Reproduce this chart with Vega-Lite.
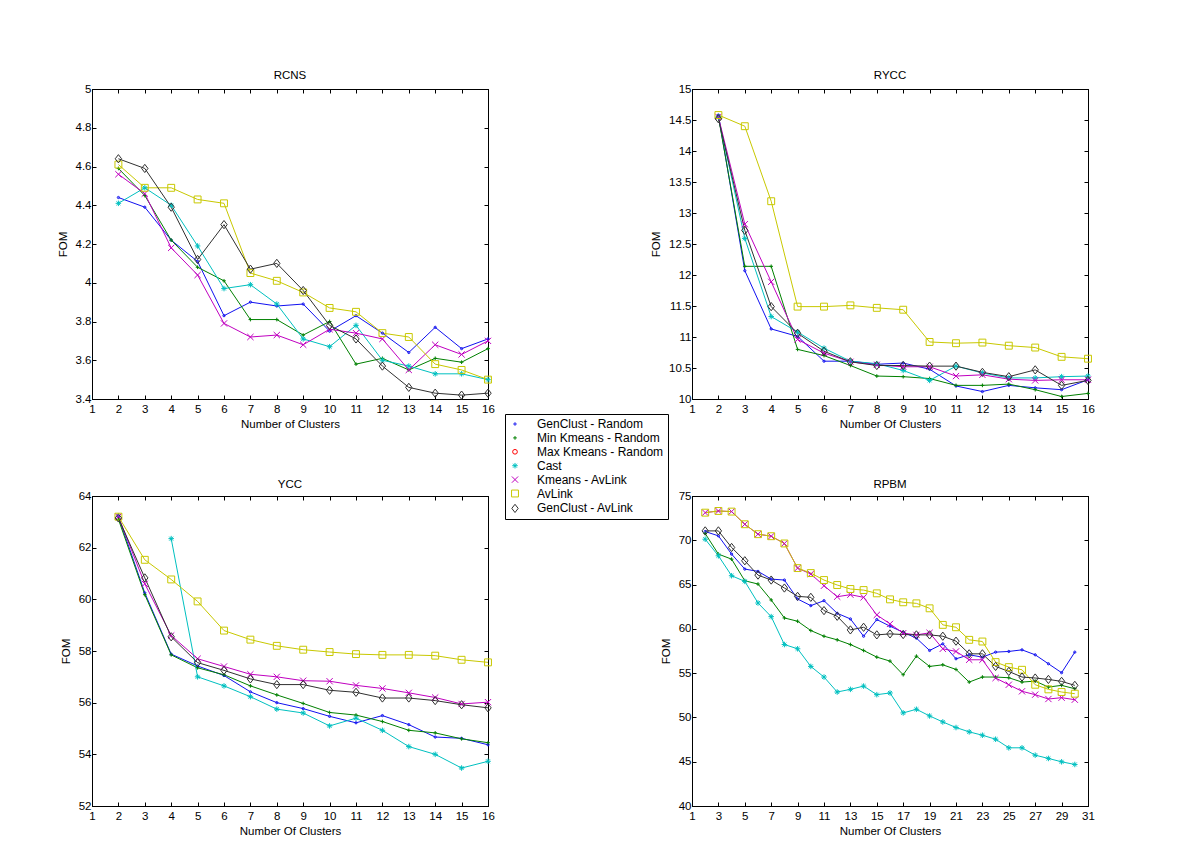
{
"$schema": "https://vega.github.io/schema/vega-lite/v6.json",
"background": "white",
"padding": {"left": 56, "top": 69, "right": 10, "bottom": 10},
"config": {
  "font": "Liberation Sans",
  "view": {"stroke": "black", "strokeWidth": 1},
  "axis": {"grid": false, "domainColor": "black", "domainWidth": 1, "tickColor": "black", "tickSize": -4, "tickWidth": 1, "labelColor": "black", "titleColor": "black", "labelFont": "Liberation Sans", "titleFont": "Liberation Sans", "labelFontSize": 11.5, "titleFontSize": 11.5, "titleFontWeight": "normal", "labelPadding": 8, "titlePadding": 4, "labelFlush": false, "labelOverlap": false, "labelBound": false},
  "axisY": {"titlePadding": 7, "labelPadding": 5},
  "title": {"font": "Liberation Sans", "fontSize": 11.5, "fontWeight": "normal", "color": "black", "offset": 2}
},
"datasets": {
"rcns": [
{"m":"GenClust - Random","k":2,"v":4.44},{"m":"GenClust - Random","k":3,"v":4.39},{"m":"GenClust - Random","k":4,"v":4.22},{"m":"GenClust - Random","k":5,"v":4.11},{"m":"GenClust - Random","k":6,"v":3.83},{"m":"GenClust - Random","k":7,"v":3.90},{"m":"GenClust - Random","k":8,"v":3.88},{"m":"GenClust - Random","k":9,"v":3.89},{"m":"GenClust - Random","k":10,"v":3.75},{"m":"GenClust - Random","k":11,"v":3.83},{"m":"GenClust - Random","k":12,"v":3.74},{"m":"GenClust - Random","k":13,"v":3.64},{"m":"GenClust - Random","k":14,"v":3.77},{"m":"GenClust - Random","k":15,"v":3.66},{"m":"GenClust - Random","k":16,"v":3.71},
{"m":"Min Kmeans - Random","k":2,"v":4.59},{"m":"Min Kmeans - Random","k":3,"v":4.45},{"m":"Min Kmeans - Random","k":4,"v":4.22},{"m":"Min Kmeans - Random","k":5,"v":4.08},{"m":"Min Kmeans - Random","k":6,"v":4.01},{"m":"Min Kmeans - Random","k":7,"v":3.81},{"m":"Min Kmeans - Random","k":8,"v":3.81},{"m":"Min Kmeans - Random","k":9,"v":3.73},{"m":"Min Kmeans - Random","k":10,"v":3.80},{"m":"Min Kmeans - Random","k":11,"v":3.58},{"m":"Min Kmeans - Random","k":12,"v":3.61},{"m":"Min Kmeans - Random","k":13,"v":3.55},{"m":"Min Kmeans - Random","k":14,"v":3.61},{"m":"Min Kmeans - Random","k":15,"v":3.59},{"m":"Min Kmeans - Random","k":16,"v":3.66},
{"m":"Cast","k":2,"v":4.41},{"m":"Cast","k":3,"v":4.49},{"m":"Cast","k":4,"v":4.40},{"m":"Cast","k":5,"v":4.19},{"m":"Cast","k":6,"v":3.97},{"m":"Cast","k":7,"v":3.99},{"m":"Cast","k":8,"v":3.89},{"m":"Cast","k":9,"v":3.71},{"m":"Cast","k":10,"v":3.67},{"m":"Cast","k":11,"v":3.78},{"m":"Cast","k":12,"v":3.60},{"m":"Cast","k":13,"v":3.57},{"m":"Cast","k":14,"v":3.53},{"m":"Cast","k":15,"v":3.53},{"m":"Cast","k":16,"v":3.50},
{"m":"Kmeans - AvLink","k":2,"v":4.56},{"m":"Kmeans - AvLink","k":3,"v":4.46},{"m":"Kmeans - AvLink","k":4,"v":4.18},{"m":"Kmeans - AvLink","k":5,"v":4.04},{"m":"Kmeans - AvLink","k":6,"v":3.79},{"m":"Kmeans - AvLink","k":7,"v":3.72},{"m":"Kmeans - AvLink","k":8,"v":3.73},{"m":"Kmeans - AvLink","k":9,"v":3.68},{"m":"Kmeans - AvLink","k":10,"v":3.76},{"m":"Kmeans - AvLink","k":11,"v":3.74},{"m":"Kmeans - AvLink","k":12,"v":3.71},{"m":"Kmeans - AvLink","k":13,"v":3.55},{"m":"Kmeans - AvLink","k":14,"v":3.68},{"m":"Kmeans - AvLink","k":15,"v":3.63},{"m":"Kmeans - AvLink","k":16,"v":3.70},
{"m":"AvLink","k":2,"v":4.61},{"m":"AvLink","k":3,"v":4.49},{"m":"AvLink","k":4,"v":4.49},{"m":"AvLink","k":5,"v":4.43},{"m":"AvLink","k":6,"v":4.41},{"m":"AvLink","k":7,"v":4.05},{"m":"AvLink","k":8,"v":4.01},{"m":"AvLink","k":9,"v":3.95},{"m":"AvLink","k":10,"v":3.87},{"m":"AvLink","k":11,"v":3.85},{"m":"AvLink","k":12,"v":3.74},{"m":"AvLink","k":13,"v":3.72},{"m":"AvLink","k":14,"v":3.58},{"m":"AvLink","k":15,"v":3.55},{"m":"AvLink","k":16,"v":3.50},
{"m":"GenClust - AvLink","k":2,"v":4.64},{"m":"GenClust - AvLink","k":3,"v":4.59},{"m":"GenClust - AvLink","k":4,"v":4.39},{"m":"GenClust - AvLink","k":5,"v":4.12},{"m":"GenClust - AvLink","k":6,"v":4.30},{"m":"GenClust - AvLink","k":7,"v":4.07},{"m":"GenClust - AvLink","k":8,"v":4.10},{"m":"GenClust - AvLink","k":9,"v":3.96},{"m":"GenClust - AvLink","k":10,"v":3.78},{"m":"GenClust - AvLink","k":11,"v":3.71},{"m":"GenClust - AvLink","k":12,"v":3.57},{"m":"GenClust - AvLink","k":13,"v":3.46},{"m":"GenClust - AvLink","k":14,"v":3.43},{"m":"GenClust - AvLink","k":15,"v":3.42},{"m":"GenClust - AvLink","k":16,"v":3.43}
],
"rycc": [
{"m":"GenClust - Random","k":2,"v":14.58},{"m":"GenClust - Random","k":3,"v":12.07},{"m":"GenClust - Random","k":4,"v":11.13},{"m":"GenClust - Random","k":5,"v":11.01},{"m":"GenClust - Random","k":6,"v":10.61},{"m":"GenClust - Random","k":7,"v":10.61},{"m":"GenClust - Random","k":8,"v":10.56},{"m":"GenClust - Random","k":9,"v":10.58},{"m":"GenClust - Random","k":10,"v":10.48},{"m":"GenClust - Random","k":11,"v":10.21},{"m":"GenClust - Random","k":12,"v":10.12},{"m":"GenClust - Random","k":13,"v":10.22},{"m":"GenClust - Random","k":14,"v":10.18},{"m":"GenClust - Random","k":15,"v":10.15},{"m":"GenClust - Random","k":16,"v":10.31},
{"m":"Min Kmeans - Random","k":2,"v":14.55},{"m":"Min Kmeans - Random","k":3,"v":12.14},{"m":"Min Kmeans - Random","k":4,"v":12.14},{"m":"Min Kmeans - Random","k":5,"v":10.80},{"m":"Min Kmeans - Random","k":6,"v":10.70},{"m":"Min Kmeans - Random","k":7,"v":10.54},{"m":"Min Kmeans - Random","k":8,"v":10.37},{"m":"Min Kmeans - Random","k":9,"v":10.36},{"m":"Min Kmeans - Random","k":10,"v":10.33},{"m":"Min Kmeans - Random","k":11,"v":10.22},{"m":"Min Kmeans - Random","k":12,"v":10.22},{"m":"Min Kmeans - Random","k":13,"v":10.24},{"m":"Min Kmeans - Random","k":14,"v":10.15},{"m":"Min Kmeans - Random","k":15,"v":10.04},{"m":"Min Kmeans - Random","k":16,"v":10.09},
{"m":"Cast","k":2,"v":14.55},{"m":"Cast","k":3,"v":12.59},{"m":"Cast","k":4,"v":11.33},{"m":"Cast","k":5,"v":11.08},{"m":"Cast","k":6,"v":10.82},{"m":"Cast","k":7,"v":10.61},{"m":"Cast","k":8,"v":10.57},{"m":"Cast","k":9,"v":10.46},{"m":"Cast","k":10,"v":10.30},{"m":"Cast","k":11,"v":10.53},{"m":"Cast","k":12,"v":10.42},{"m":"Cast","k":13,"v":10.34},{"m":"Cast","k":14,"v":10.34},{"m":"Cast","k":15,"v":10.36},{"m":"Cast","k":16,"v":10.37},
{"m":"Kmeans - AvLink","k":2,"v":14.55},{"m":"Kmeans - AvLink","k":3,"v":12.82},{"m":"Kmeans - AvLink","k":4,"v":11.89},{"m":"Kmeans - AvLink","k":5,"v":10.96},{"m":"Kmeans - AvLink","k":6,"v":10.74},{"m":"Kmeans - AvLink","k":7,"v":10.60},{"m":"Kmeans - AvLink","k":8,"v":10.55},{"m":"Kmeans - AvLink","k":9,"v":10.52},{"m":"Kmeans - AvLink","k":10,"v":10.52},{"m":"Kmeans - AvLink","k":11,"v":10.37},{"m":"Kmeans - AvLink","k":12,"v":10.39},{"m":"Kmeans - AvLink","k":13,"v":10.32},{"m":"Kmeans - AvLink","k":14,"v":10.30},{"m":"Kmeans - AvLink","k":15,"v":10.31},{"m":"Kmeans - AvLink","k":16,"v":10.31},
{"m":"AvLink","k":2,"v":14.58},{"m":"AvLink","k":3,"v":14.40},{"m":"AvLink","k":4,"v":13.19},{"m":"AvLink","k":5,"v":11.49},{"m":"AvLink","k":6,"v":11.49},{"m":"AvLink","k":7,"v":11.51},{"m":"AvLink","k":8,"v":11.47},{"m":"AvLink","k":9,"v":11.44},{"m":"AvLink","k":10,"v":10.92},{"m":"AvLink","k":11,"v":10.90},{"m":"AvLink","k":12,"v":10.91},{"m":"AvLink","k":13,"v":10.86},{"m":"AvLink","k":14,"v":10.83},{"m":"AvLink","k":15,"v":10.68},{"m":"AvLink","k":16,"v":10.65},
{"m":"GenClust - AvLink","k":2,"v":14.52},{"m":"GenClust - AvLink","k":3,"v":12.72},{"m":"GenClust - AvLink","k":4,"v":11.49},{"m":"GenClust - AvLink","k":5,"v":11.06},{"m":"GenClust - AvLink","k":6,"v":10.77},{"m":"GenClust - AvLink","k":7,"v":10.60},{"m":"GenClust - AvLink","k":8,"v":10.54},{"m":"GenClust - AvLink","k":9,"v":10.54},{"m":"GenClust - AvLink","k":10,"v":10.53},{"m":"GenClust - AvLink","k":11,"v":10.53},{"m":"GenClust - AvLink","k":12,"v":10.43},{"m":"GenClust - AvLink","k":13,"v":10.36},{"m":"GenClust - AvLink","k":14,"v":10.47},{"m":"GenClust - AvLink","k":15,"v":10.22},{"m":"GenClust - AvLink","k":16,"v":10.30}
],
"ycc": [
{"m":"GenClust - Random","k":2,"v":63.2},{"m":"GenClust - Random","k":3,"v":60.25},{"m":"GenClust - Random","k":4,"v":57.88},{"m":"GenClust - Random","k":5,"v":57.42},{"m":"GenClust - Random","k":6,"v":57.05},{"m":"GenClust - Random","k":7,"v":56.42},{"m":"GenClust - Random","k":8,"v":56.0},{"m":"GenClust - Random","k":9,"v":55.77},{"m":"GenClust - Random","k":10,"v":55.47},{"m":"GenClust - Random","k":11,"v":55.22},{"m":"GenClust - Random","k":12,"v":55.5},{"m":"GenClust - Random","k":13,"v":55.15},{"m":"GenClust - Random","k":14,"v":54.67},{"m":"GenClust - Random","k":15,"v":54.62},{"m":"GenClust - Random","k":16,"v":54.37},
{"m":"Min Kmeans - Random","k":2,"v":63.1},{"m":"Min Kmeans - Random","k":3,"v":60.18},{"m":"Min Kmeans - Random","k":4,"v":57.85},{"m":"Min Kmeans - Random","k":5,"v":57.35},{"m":"Min Kmeans - Random","k":6,"v":57.08},{"m":"Min Kmeans - Random","k":7,"v":56.65},{"m":"Min Kmeans - Random","k":8,"v":56.3},{"m":"Min Kmeans - Random","k":9,"v":55.97},{"m":"Min Kmeans - Random","k":10,"v":55.62},{"m":"Min Kmeans - Random","k":11,"v":55.52},{"m":"Min Kmeans - Random","k":12,"v":55.27},{"m":"Min Kmeans - Random","k":13,"v":54.93},{"m":"Min Kmeans - Random","k":14,"v":54.83},{"m":"Min Kmeans - Random","k":15,"v":54.6},{"m":"Min Kmeans - Random","k":16,"v":54.45},
{"m":"Cast","k":4,"v":62.35},{"m":"Cast","k":5,"v":57.0},{"m":"Cast","k":6,"v":56.65},{"m":"Cast","k":7,"v":56.23},{"m":"Cast","k":8,"v":55.75},{"m":"Cast","k":9,"v":55.6},{"m":"Cast","k":10,"v":55.1},{"m":"Cast","k":11,"v":55.4},{"m":"Cast","k":12,"v":54.93},{"m":"Cast","k":13,"v":54.3},{"m":"Cast","k":14,"v":54.0},{"m":"Cast","k":15,"v":53.47},{"m":"Cast","k":16,"v":53.73},
{"m":"Kmeans - AvLink","k":2,"v":63.2},{"m":"Kmeans - AvLink","k":3,"v":60.6},{"m":"Kmeans - AvLink","k":4,"v":58.6},{"m":"Kmeans - AvLink","k":5,"v":57.7},{"m":"Kmeans - AvLink","k":6,"v":57.4},{"m":"Kmeans - AvLink","k":7,"v":57.1},{"m":"Kmeans - AvLink","k":8,"v":57.0},{"m":"Kmeans - AvLink","k":9,"v":56.85},{"m":"Kmeans - AvLink","k":10,"v":56.83},{"m":"Kmeans - AvLink","k":11,"v":56.67},{"m":"Kmeans - AvLink","k":12,"v":56.55},{"m":"Kmeans - AvLink","k":13,"v":56.38},{"m":"Kmeans - AvLink","k":14,"v":56.2},{"m":"Kmeans - AvLink","k":15,"v":55.95},{"m":"Kmeans - AvLink","k":16,"v":56.02},
{"m":"AvLink","k":2,"v":63.2},{"m":"AvLink","k":3,"v":61.53},{"m":"AvLink","k":4,"v":60.77},{"m":"AvLink","k":5,"v":59.92},{"m":"AvLink","k":6,"v":58.79},{"m":"AvLink","k":7,"v":58.44},{"m":"AvLink","k":8,"v":58.2},{"m":"AvLink","k":9,"v":58.05},{"m":"AvLink","k":10,"v":57.96},{"m":"AvLink","k":11,"v":57.88},{"m":"AvLink","k":12,"v":57.85},{"m":"AvLink","k":13,"v":57.85},{"m":"AvLink","k":14,"v":57.82},{"m":"AvLink","k":15,"v":57.66},{"m":"AvLink","k":16,"v":57.56},
{"m":"GenClust - AvLink","k":2,"v":63.15},{"m":"GenClust - AvLink","k":3,"v":60.83},{"m":"GenClust - AvLink","k":4,"v":58.55},{"m":"GenClust - AvLink","k":5,"v":57.55},{"m":"GenClust - AvLink","k":6,"v":57.25},{"m":"GenClust - AvLink","k":7,"v":56.92},{"m":"GenClust - AvLink","k":8,"v":56.7},{"m":"GenClust - AvLink","k":9,"v":56.7},{"m":"GenClust - AvLink","k":10,"v":56.48},{"m":"GenClust - AvLink","k":11,"v":56.4},{"m":"GenClust - AvLink","k":12,"v":56.18},{"m":"GenClust - AvLink","k":13,"v":56.18},{"m":"GenClust - AvLink","k":14,"v":56.08},{"m":"GenClust - AvLink","k":15,"v":55.92},{"m":"GenClust - AvLink","k":16,"v":55.8}
],
"rpbm": [
{"m":"GenClust - Random","k":2,"v":70.99},{"m":"GenClust - Random","k":3,"v":70.5},{"m":"GenClust - Random","k":4,"v":68.44},{"m":"GenClust - Random","k":5,"v":66.75},{"m":"GenClust - Random","k":6,"v":66.49},{"m":"GenClust - Random","k":7,"v":65.62},{"m":"GenClust - Random","k":8,"v":65.51},{"m":"GenClust - Random","k":9,"v":63.37},{"m":"GenClust - Random","k":10,"v":62.62},{"m":"GenClust - Random","k":11,"v":63.18},{"m":"GenClust - Random","k":12,"v":61.76},{"m":"GenClust - Random","k":13,"v":61.12},{"m":"GenClust - Random","k":14,"v":59.17},{"m":"GenClust - Random","k":15,"v":61.05},{"m":"GenClust - Random","k":16,"v":60.3},{"m":"GenClust - Random","k":17,"v":59.62},{"m":"GenClust - Random","k":18,"v":58.95},{"m":"GenClust - Random","k":19,"v":57.56},{"m":"GenClust - Random","k":20,"v":58.31},{"m":"GenClust - Random","k":21,"v":56.62},{"m":"GenClust - Random","k":22,"v":57.07},{"m":"GenClust - Random","k":23,"v":56.81},{"m":"GenClust - Random","k":24,"v":57.37},{"m":"GenClust - Random","k":25,"v":57.45},{"m":"GenClust - Random","k":26,"v":57.63},{"m":"GenClust - Random","k":27,"v":57.07},{"m":"GenClust - Random","k":28,"v":56.06},{"m":"GenClust - Random","k":29,"v":55.05},{"m":"GenClust - Random","k":30,"v":57.37},
{"m":"Min Kmeans - Random","k":2,"v":70.76},{"m":"Min Kmeans - Random","k":3,"v":68.44},{"m":"Min Kmeans - Random","k":4,"v":67.87},{"m":"Min Kmeans - Random","k":5,"v":65.43},{"m":"Min Kmeans - Random","k":6,"v":65.06},{"m":"Min Kmeans - Random","k":7,"v":63.26},{"m":"Min Kmeans - Random","k":8,"v":61.23},{"m":"Min Kmeans - Random","k":9,"v":60.86},{"m":"Min Kmeans - Random","k":10,"v":59.81},{"m":"Min Kmeans - Random","k":11,"v":59.17},{"m":"Min Kmeans - Random","k":12,"v":58.76},{"m":"Min Kmeans - Random","k":13,"v":58.23},{"m":"Min Kmeans - Random","k":14,"v":57.56},{"m":"Min Kmeans - Random","k":15,"v":56.81},{"m":"Min Kmeans - Random","k":16,"v":56.36},{"m":"Min Kmeans - Random","k":17,"v":54.82},{"m":"Min Kmeans - Random","k":18,"v":56.92},{"m":"Min Kmeans - Random","k":19,"v":55.76},{"m":"Min Kmeans - Random","k":20,"v":55.94},{"m":"Min Kmeans - Random","k":21,"v":55.42},{"m":"Min Kmeans - Random","k":22,"v":53.99},{"m":"Min Kmeans - Random","k":23,"v":54.56},{"m":"Min Kmeans - Random","k":24,"v":54.56},{"m":"Min Kmeans - Random","k":25,"v":54.48},{"m":"Min Kmeans - Random","k":26,"v":53.99},{"m":"Min Kmeans - Random","k":27,"v":54.1},{"m":"Min Kmeans - Random","k":28,"v":53.43},{"m":"Min Kmeans - Random","k":29,"v":53.62},{"m":"Min Kmeans - Random","k":30,"v":53.24},
{"m":"Cast","k":2,"v":70.12},{"m":"Cast","k":3,"v":68.25},{"m":"Cast","k":4,"v":66.0},{"m":"Cast","k":5,"v":65.36},{"m":"Cast","k":6,"v":62.92},{"m":"Cast","k":7,"v":61.38},{"m":"Cast","k":8,"v":58.23},{"m":"Cast","k":9,"v":57.75},{"m":"Cast","k":10,"v":55.76},{"m":"Cast","k":11,"v":54.56},{"m":"Cast","k":12,"v":52.87},{"m":"Cast","k":13,"v":53.17},{"m":"Cast","k":14,"v":53.54},{"m":"Cast","k":15,"v":52.57},{"m":"Cast","k":16,"v":52.76},{"m":"Cast","k":17,"v":50.51},{"m":"Cast","k":18,"v":50.92},{"m":"Cast","k":19,"v":50.17},{"m":"Cast","k":20,"v":49.49},{"m":"Cast","k":21,"v":48.86},{"m":"Cast","k":22,"v":48.37},{"m":"Cast","k":23,"v":47.99},{"m":"Cast","k":24,"v":47.54},{"m":"Cast","k":25,"v":46.57},{"m":"Cast","k":26,"v":46.57},{"m":"Cast","k":27,"v":45.74},{"m":"Cast","k":28,"v":45.37},{"m":"Cast","k":29,"v":44.99},{"m":"Cast","k":30,"v":44.69},
{"m":"Kmeans - AvLink","k":2,"v":73.12},{"m":"Kmeans - AvLink","k":3,"v":73.31},{"m":"Kmeans - AvLink","k":4,"v":73.24},{"m":"Kmeans - AvLink","k":5,"v":71.81},{"m":"Kmeans - AvLink","k":6,"v":70.69},{"m":"Kmeans - AvLink","k":7,"v":70.46},{"m":"Kmeans - AvLink","k":8,"v":69.64},{"m":"Kmeans - AvLink","k":9,"v":66.86},{"m":"Kmeans - AvLink","k":10,"v":66.19},{"m":"Kmeans - AvLink","k":11,"v":64.87},{"m":"Kmeans - AvLink","k":12,"v":63.63},{"m":"Kmeans - AvLink","k":13,"v":63.86},{"m":"Kmeans - AvLink","k":14,"v":63.56},{"m":"Kmeans - AvLink","k":15,"v":61.57},{"m":"Kmeans - AvLink","k":16,"v":60.56},{"m":"Kmeans - AvLink","k":17,"v":59.51},{"m":"Kmeans - AvLink","k":18,"v":59.32},{"m":"Kmeans - AvLink","k":19,"v":59.55},{"m":"Kmeans - AvLink","k":20,"v":57.75},{"m":"Kmeans - AvLink","k":21,"v":57.45},{"m":"Kmeans - AvLink","k":22,"v":56.51},{"m":"Kmeans - AvLink","k":23,"v":56.51},{"m":"Kmeans - AvLink","k":24,"v":54.45},{"m":"Kmeans - AvLink","k":25,"v":53.69},{"m":"Kmeans - AvLink","k":26,"v":52.95},{"m":"Kmeans - AvLink","k":27,"v":52.57},{"m":"Kmeans - AvLink","k":28,"v":52.08},{"m":"Kmeans - AvLink","k":29,"v":52.23},{"m":"Kmeans - AvLink","k":30,"v":52.0},
{"m":"AvLink","k":2,"v":73.12},{"m":"AvLink","k":3,"v":73.31},{"m":"AvLink","k":4,"v":73.24},{"m":"AvLink","k":5,"v":71.81},{"m":"AvLink","k":6,"v":70.69},{"m":"AvLink","k":7,"v":70.46},{"m":"AvLink","k":8,"v":69.64},{"m":"AvLink","k":9,"v":66.86},{"m":"AvLink","k":10,"v":66.3},{"m":"AvLink","k":11,"v":65.51},{"m":"AvLink","k":12,"v":64.95},{"m":"AvLink","k":13,"v":64.5},{"m":"AvLink","k":14,"v":64.38},{"m":"AvLink","k":15,"v":64.01},{"m":"AvLink","k":16,"v":63.33},{"m":"AvLink","k":17,"v":63.0},{"m":"AvLink","k":18,"v":62.88},{"m":"AvLink","k":19,"v":62.32},{"m":"AvLink","k":20,"v":60.45},{"m":"AvLink","k":21,"v":60.18},{"m":"AvLink","k":22,"v":58.76},{"m":"AvLink","k":23,"v":58.57},{"m":"AvLink","k":24,"v":56.25},{"m":"AvLink","k":25,"v":55.68},{"m":"AvLink","k":26,"v":55.38},{"m":"AvLink","k":27,"v":53.69},{"m":"AvLink","k":28,"v":53.17},{"m":"AvLink","k":29,"v":52.87},{"m":"AvLink","k":30,"v":52.68},
{"m":"GenClust - AvLink","k":2,"v":71.06},{"m":"GenClust - AvLink","k":3,"v":71.06},{"m":"GenClust - AvLink","k":4,"v":69.19},{"m":"GenClust - AvLink","k":5,"v":67.69},{"m":"GenClust - AvLink","k":6,"v":66.07},{"m":"GenClust - AvLink","k":7,"v":65.51},{"m":"GenClust - AvLink","k":8,"v":64.61},{"m":"GenClust - AvLink","k":9,"v":63.67},{"m":"GenClust - AvLink","k":10,"v":63.56},{"m":"GenClust - AvLink","k":11,"v":62.06},{"m":"GenClust - AvLink","k":12,"v":61.42},{"m":"GenClust - AvLink","k":13,"v":59.88},{"m":"GenClust - AvLink","k":14,"v":60.18},{"m":"GenClust - AvLink","k":15,"v":59.32},{"m":"GenClust - AvLink","k":16,"v":59.43},{"m":"GenClust - AvLink","k":17,"v":59.36},{"m":"GenClust - AvLink","k":18,"v":59.32},{"m":"GenClust - AvLink","k":19,"v":59.32},{"m":"GenClust - AvLink","k":20,"v":59.17},{"m":"GenClust - AvLink","k":21,"v":58.61},{"m":"GenClust - AvLink","k":22,"v":57.18},{"m":"GenClust - AvLink","k":23,"v":57.18},{"m":"GenClust - AvLink","k":24,"v":55.76},{"m":"GenClust - AvLink","k":25,"v":55.19},{"m":"GenClust - AvLink","k":26,"v":54.56},{"m":"GenClust - AvLink","k":27,"v":54.45},{"m":"GenClust - AvLink","k":28,"v":54.29},{"m":"GenClust - AvLink","k":29,"v":54.07},{"m":"GenClust - AvLink","k":30,"v":53.62}
]
},
"bounds": "flush",
"columns": 2,
"spacing": {"row": 97, "column": 204},
"concat": [
{"title": "RCNS", "width": 396, "height": 310, "data": {"name": "rcns"},
 "resolve": {"axis": {"x": "independent", "y": "independent"}},
 "layer": [
  {"mark": {"type": "line", "strokeWidth": 1},
   "encoding": {
    "x": {"field": "k", "type": "quantitative", "scale": {"domain": [1, 16], "nice": false, "zero": false}, "axis": {"values": [1,2,3,4,5,6,7,8,9,10,11,12,13,14,15,16], "title": "Number of Clusters"}},
    "y": {"field": "v", "type": "quantitative", "scale": {"domain": [3.4, 5], "nice": false, "zero": false}, "axis": {"values": [3.4,3.6,3.8,4,4.2,4.4,4.6,4.8,5], "format": "~g", "title": "FOM"}},
    "color": {"field": "m", "type": "nominal",
      "scale": {"domain": ["GenClust - Random","Min Kmeans - Random","Max Kmeans - Random","Cast","Kmeans - AvLink","AvLink","GenClust - AvLink"], "range": ["#1010f0","#008000","#ff0000","#00c0c0","#c000c0","#c8c800","#303030"]},
      "legend": {"orient": "none", "legendX": 413, "legendY": 325, "title": null, "strokeColor": "black", "fillColor": "white", "padding": 4, "cornerRadius": 0,
        "labelFont": "Liberation Sans", "labelFontSize": 12, "labelColor": "black", "labelLimit": 300, "symbolSize": 50, "symbolStrokeWidth": 1, "rowPadding": 1.9, "labelOffset": 16}}
   }},
  {"mark": {"type": "point", "filled": false, "strokeWidth": 1, "opacity": 1},
   "encoding": {
    "x": {"field": "k", "type": "quantitative", "axis": {"orient": "top", "labels": false, "title": null, "values": [1,2,3,4,5,6,7,8,9,10,11,12,13,14,15,16]}},
    "y": {"field": "v", "type": "quantitative", "axis": {"orient": "right", "labels": false, "title": null, "values": [3.4,3.6,3.8,4,4.2,4.4,4.6,4.8,5]}},
    "color": {"field": "m", "type": "nominal", "legend": null},
    "shape": {"field": "m", "type": "nominal", "legend": null, "scale": {"domain": ["GenClust - Random","Min Kmeans - Random","Max Kmeans - Random","Cast","Kmeans - AvLink","AvLink","GenClust - AvLink"], "range": ["circle","M-1,0L1,0M0,-1L0,1","circle","M-1,0L1,0M0,-1L0,1M-0.7,-0.7L0.7,0.7M-0.7,0.7L0.7,-0.7","M-1,-1L1,1M-1,1L1,-1","square","M0,-1.1L0.85,0L0,1.1L-0.85,0Z"]}},
    "size": {"field": "m", "type": "nominal", "legend": null, "scale": {"domain": ["GenClust - Random","Min Kmeans - Random","Max Kmeans - Random","Cast","Kmeans - AvLink","AvLink","GenClust - AvLink"], "range": [5,56,40,56,25,64,64]}}
   }}
 ]},
{"title": "RYCC", "width": 396, "height": 310, "data": {"name": "rycc"},
 "resolve": {"axis": {"x": "independent", "y": "independent"}},
 "layer": [
  {"mark": {"type": "line", "strokeWidth": 1},
   "encoding": {
    "x": {"field": "k", "type": "quantitative", "scale": {"domain": [1, 16], "nice": false, "zero": false}, "axis": {"values": [1,2,3,4,5,6,7,8,9,10,11,12,13,14,15,16], "title": "Number Of Clusters"}},
    "y": {"field": "v", "type": "quantitative", "scale": {"domain": [10, 15], "nice": false, "zero": false}, "axis": {"values": [10,10.5,11,11.5,12,12.5,13,13.5,14,14.5,15], "format": "~g", "title": "FOM"}},
    "color": {"field": "m", "type": "nominal", "legend": null, "scale": {"domain": ["GenClust - Random","Min Kmeans - Random","Max Kmeans - Random","Cast","Kmeans - AvLink","AvLink","GenClust - AvLink"], "range": ["#1010f0","#008000","#ff0000","#00c0c0","#c000c0","#c8c800","#303030"]}}
   }},
  {"mark": {"type": "point", "filled": false, "strokeWidth": 1, "opacity": 1},
   "encoding": {
    "x": {"field": "k", "type": "quantitative", "axis": {"orient": "top", "labels": false, "title": null, "values": [1,2,3,4,5,6,7,8,9,10,11,12,13,14,15,16]}},
    "y": {"field": "v", "type": "quantitative", "axis": {"orient": "right", "labels": false, "title": null, "values": [10,10.5,11,11.5,12,12.5,13,13.5,14,14.5,15]}},
    "color": {"field": "m", "type": "nominal", "legend": null},
    "shape": {"field": "m", "type": "nominal", "legend": null, "scale": {"domain": ["GenClust - Random","Min Kmeans - Random","Max Kmeans - Random","Cast","Kmeans - AvLink","AvLink","GenClust - AvLink"], "range": ["circle","M-1,0L1,0M0,-1L0,1","circle","M-1,0L1,0M0,-1L0,1M-0.7,-0.7L0.7,0.7M-0.7,0.7L0.7,-0.7","M-1,-1L1,1M-1,1L1,-1","square","M0,-1.1L0.85,0L0,1.1L-0.85,0Z"]}},
    "size": {"field": "m", "type": "nominal", "legend": null, "scale": {"domain": ["GenClust - Random","Min Kmeans - Random","Max Kmeans - Random","Cast","Kmeans - AvLink","AvLink","GenClust - AvLink"], "range": [5,56,40,56,25,64,64]}}
   }}
 ]},
{"title": {"text": "YCC", "offset": 0}, "width": 396, "height": 310, "data": {"name": "ycc"},
 "resolve": {"axis": {"x": "independent", "y": "independent"}},
 "layer": [
  {"mark": {"type": "line", "strokeWidth": 1},
   "encoding": {
    "x": {"field": "k", "type": "quantitative", "scale": {"domain": [1, 16], "nice": false, "zero": false}, "axis": {"values": [1,2,3,4,5,6,7,8,9,10,11,12,13,14,15,16], "title": "Number Of Clusters"}},
    "y": {"field": "v", "type": "quantitative", "scale": {"domain": [52, 64], "nice": false, "zero": false}, "axis": {"values": [52,54,56,58,60,62,64], "format": "~g", "title": "FOM"}},
    "color": {"field": "m", "type": "nominal", "legend": null, "scale": {"domain": ["GenClust - Random","Min Kmeans - Random","Max Kmeans - Random","Cast","Kmeans - AvLink","AvLink","GenClust - AvLink"], "range": ["#1010f0","#008000","#ff0000","#00c0c0","#c000c0","#c8c800","#303030"]}}
   }},
  {"mark": {"type": "point", "filled": false, "strokeWidth": 1, "opacity": 1},
   "encoding": {
    "x": {"field": "k", "type": "quantitative", "axis": {"orient": "top", "labels": false, "title": null, "values": [1,2,3,4,5,6,7,8,9,10,11,12,13,14,15,16]}},
    "y": {"field": "v", "type": "quantitative", "axis": {"orient": "right", "labels": false, "title": null, "values": [52,54,56,58,60,62,64]}},
    "color": {"field": "m", "type": "nominal", "legend": null},
    "shape": {"field": "m", "type": "nominal", "legend": null, "scale": {"domain": ["GenClust - Random","Min Kmeans - Random","Max Kmeans - Random","Cast","Kmeans - AvLink","AvLink","GenClust - AvLink"], "range": ["circle","M-1,0L1,0M0,-1L0,1","circle","M-1,0L1,0M0,-1L0,1M-0.7,-0.7L0.7,0.7M-0.7,0.7L0.7,-0.7","M-1,-1L1,1M-1,1L1,-1","square","M0,-1.1L0.85,0L0,1.1L-0.85,0Z"]}},
    "size": {"field": "m", "type": "nominal", "legend": null, "scale": {"domain": ["GenClust - Random","Min Kmeans - Random","Max Kmeans - Random","Cast","Kmeans - AvLink","AvLink","GenClust - AvLink"], "range": [5,56,40,56,25,64,64]}}
   }}
 ]},
{"title": {"text": "RPBM", "offset": 0}, "width": 396, "height": 310, "data": {"name": "rpbm"},
 "resolve": {"axis": {"x": "independent", "y": "independent"}},
 "layer": [
  {"mark": {"type": "line", "strokeWidth": 1},
   "encoding": {
    "x": {"field": "k", "type": "quantitative", "scale": {"domain": [1, 31], "nice": false, "zero": false}, "axis": {"values": [1,3,5,7,9,11,13,15,17,19,21,23,25,27,29,31], "title": "Number Of Clusters"}},
    "y": {"field": "v", "type": "quantitative", "scale": {"domain": [40, 75], "nice": false, "zero": false}, "axis": {"values": [40,45,50,55,60,65,70,75], "format": "~g", "title": "FOM"}},
    "color": {"field": "m", "type": "nominal", "legend": null, "scale": {"domain": ["GenClust - Random","Min Kmeans - Random","Max Kmeans - Random","Cast","Kmeans - AvLink","AvLink","GenClust - AvLink"], "range": ["#1010f0","#008000","#ff0000","#00c0c0","#c000c0","#c8c800","#303030"]}}
   }},
  {"mark": {"type": "point", "filled": false, "strokeWidth": 1, "opacity": 1},
   "encoding": {
    "x": {"field": "k", "type": "quantitative", "axis": {"orient": "top", "labels": false, "title": null, "values": [1,3,5,7,9,11,13,15,17,19,21,23,25,27,29,31]}},
    "y": {"field": "v", "type": "quantitative", "axis": {"orient": "right", "labels": false, "title": null, "values": [40,45,50,55,60,65,70,75]}},
    "color": {"field": "m", "type": "nominal", "legend": null},
    "shape": {"field": "m", "type": "nominal", "legend": null, "scale": {"domain": ["GenClust - Random","Min Kmeans - Random","Max Kmeans - Random","Cast","Kmeans - AvLink","AvLink","GenClust - AvLink"], "range": ["circle","M-1,0L1,0M0,-1L0,1","circle","M-1,0L1,0M0,-1L0,1M-0.7,-0.7L0.7,0.7M-0.7,0.7L0.7,-0.7","M-1,-1L1,1M-1,1L1,-1","square","M0,-1.1L0.85,0L0,1.1L-0.85,0Z"]}},
    "size": {"field": "m", "type": "nominal", "legend": null, "scale": {"domain": ["GenClust - Random","Min Kmeans - Random","Max Kmeans - Random","Cast","Kmeans - AvLink","AvLink","GenClust - AvLink"], "range": [5,56,40,56,25,64,64]}}
   }}
 ]}
]
}
